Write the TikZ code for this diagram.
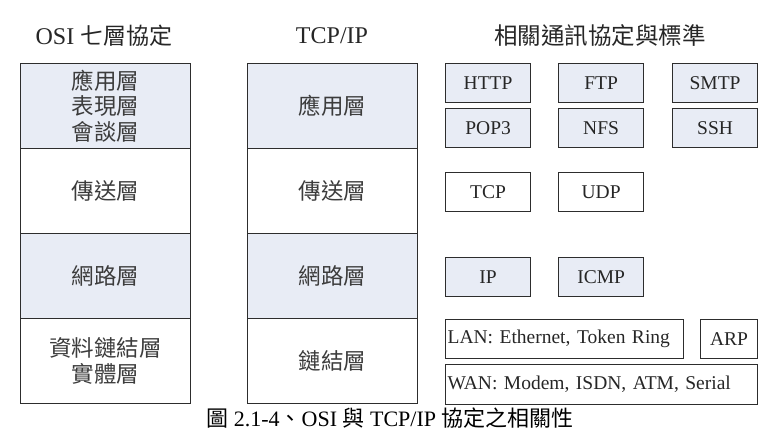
\documentclass[tikz,border=0pt]{standalone}
\usepackage{fontspec}
\setmainfont{Liberation Serif}
\newfontfamily\cjk{Noto Sans CJK TC}
\definecolor{lb}{RGB}{232,236,245}
\definecolor{ln}{RGB}{45,45,45}
\definecolor{tx}{RGB}{60,60,60}
\begin{document}
\begin{tikzpicture}[x=1pt,y=-1pt,
  layer/.style={draw=ln, line width=1.3pt, minimum width=170pt, minimum height=85pt, anchor=north west, inner sep=0pt, align=center, text=tx, font=\cjk\fontsize{22.5}{25.5}\selectfont},
  proto/.style={draw=ln, line width=1.2pt, minimum width=85pt, minimum height=39pt, anchor=north west, inner sep=0pt, text=black!85, font=\fontsize{19.5}{21}\selectfont},
  title/.style={text=black!85, inner sep=0pt, font=\fontsize{24}{26}\selectfont}]
\useasboundingbox[fill=white] (0,0) rectangle (781,440);
% titles
\node[title] (t1) at (104,36) {OSI {\cjk\fontsize{23}{26}\selectfont 七層協定}};
\node[title] (t2) at (332,36) {TCP/IP};
\node[title, font=\cjk\fontsize{23.5}{26}\selectfont] (t3) at (600,36) {相關通訊協定與標準};
% OSI column
\node[layer, fill=lb] (osi1) at (20,63) {應用層\\表現層\\會談層};
\node[layer] (osi2) at (20,148) {傳送層};
\node[layer, fill=lb] (osi3) at (20,233) {網路層};
\node[layer] (osi4) at (20,318) {資料鏈結層\\實體層};
% TCP/IP column
\node[layer, fill=lb] (tcp1) at (247,63) {應用層};
\node[layer] (tcp2) at (247,148) {傳送層};
\node[layer, fill=lb] (tcp3) at (247,233) {網路層};
\node[layer] (tcp4) at (247,318) {鏈結層};
% protocols
\node[proto, fill=lb] (http) at (445,63) {HTTP};
\node[proto, fill=lb] (ftp) at (558,63) {FTP};
\node[proto, fill=lb] (smtp) at (672,63) {SMTP};
\node[proto, fill=lb] (pop3) at (445,108) {POP3};
\node[proto, fill=lb] (nfs) at (558,108) {NFS};
\node[proto, fill=lb] (ssh) at (672,108) {SSH};
\node[proto] (tcpp) at (445,172) {TCP};
\node[proto] (udp) at (558,172) {UDP};
\node[proto, fill=lb] (ip) at (445,257) {IP};
\node[proto, fill=lb] (icmp) at (558,257) {ICMP};
\node[proto, minimum width=238pt, text width=234pt, align=left, inner xsep=2pt] (lan) at (445,319) {LAN: Ethernet, Token Ring};
\node[proto, minimum width=57pt] (arp) at (700,319) {ARP};
\node[proto, minimum width=312pt, minimum height=40pt, text width=308pt, align=left, inner xsep=2pt] (wan) at (445,364) {WAN: Modem, ISDN, ATM, Serial};
% caption
\node[inner sep=0pt, font=\fontsize{22}{24}\selectfont] (cap) at (390,418) {{\cjk 圖} 2.1-4{\cjk 、}OSI {\cjk 與} TCP/IP {\cjk 協定之相關性}};
\end{tikzpicture}
\end{document}
